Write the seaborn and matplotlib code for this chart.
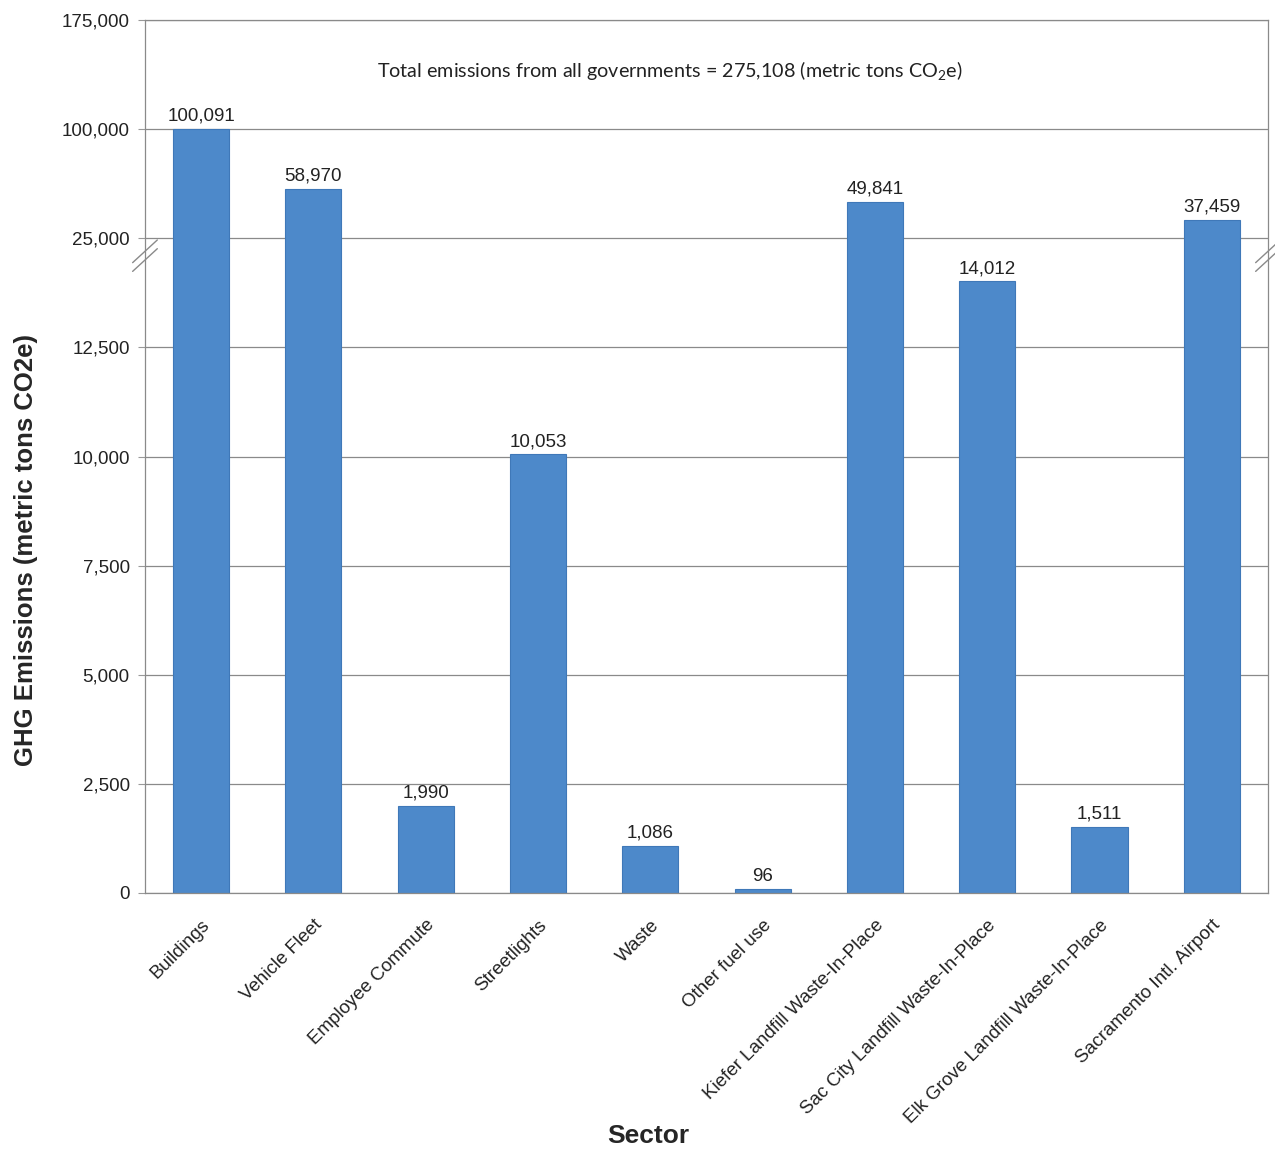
import matplotlib
matplotlib.use("Agg")
import matplotlib.pyplot as plt
import numpy as np
import pandas as pd
import seaborn as sns

# Data
sectors = [
    "Buildings",
    "Vehicle Fleet",
    "Employee Commute",
    "Streetlights",
    "Waste",
    "Other fuel use",
    "Kiefer Landfill Waste-In-Place",
    "Sac City Landfill Waste-In-Place",
    "Elk Grove Landfill Waste-In-Place",
    "Sacramento Intl. Airport",
]
emissions = [100091, 58970, 1990, 10053, 1086, 96, 49841, 14012, 1511, 37459]
y_ticks = [0, 2500, 5000, 7500, 10000, 12500, 25000, 100000, 175000]
total_note = "Total emissions from all governments = 275,108 (metric tons CO$_2$e)"

df = pd.DataFrame({"sector": sectors, "emissions": emissions})

# Broken axis: linear 0-15,000 below, compressed 25,000-175,000 above
knots_v = [0, 15000, 25000, 175000]
knots_t = [0, 5.999, 6.0, 8.0]


def fwd(v):
    return np.interp(v, knots_v, knots_t)


def inv(t):
    return np.interp(t, knots_t, knots_v)


sns.set_theme(style="white")
plt.rcParams["font.family"] = ["Liberation Sans", "DejaVu Sans"]
plt.rcParams["mathtext.default"] = "regular"

fig = plt.figure(figsize=(12.75, 11.53), dpi=100)
ax = fig.add_axes([0.1137, 0.2255, 0.8808, 0.7572])

sns.barplot(data=df, x="sector", y="emissions", color="#4D89CA",
            width=0.5, saturation=1, edgecolor="#3F78B8", linewidth=0.8, ax=ax)

ax.set_yscale("function", functions=(fwd, inv))
ax.set_ylim(0, 175000)
ax.set_xlim(-0.5, 9.5)

ax.set_yticks(y_ticks)
ax.set_yticklabels([f"{v:,}" for v in y_ticks], fontsize=13.5, color="#222222")
ax.yaxis.grid(True, color="#8a8a8a", linewidth=0.9)
ax.set_axisbelow(True)

# x tick marks at category boundaries
ax.set_xticks(range(len(sectors)))
ax.set_xticklabels(sectors, rotation=45, ha="right", rotation_mode="anchor",
                   fontsize=13.5, color="#222222")
ax.set_xticks(np.arange(-0.5, len(sectors), 1.0), minor=True)
ax.tick_params(axis="x", which="major", length=0, pad=17)
ax.tick_params(axis="x", which="minor", length=5, color="#999999", width=0.8)
ax.tick_params(axis="y", which="major", length=5, color="#999999", width=0.8,
               left=True, pad=6)

for side in ["left", "right", "top", "bottom"]:
    ax.spines[side].set_color("#8a8a8a")
    ax.spines[side].set_linewidth(0.9)

ax.bar_label(ax.containers[0], labels=[f"{v:,}" for v in emissions],
             padding=3, fontsize=13.5, color="#222222")

ax.set_xlabel("Sector", fontsize=19, fontweight="bold")
ax.xaxis.set_label_coords(0.448, -0.265)
ax.set_ylabel("GHG Emissions (metric tons CO2e)", fontsize=18.5,
              fontweight="bold")
ax.yaxis.set_label_coords(-0.095, 0.393)

ax.text(0.4675, 0.9416, total_note, transform=ax.transAxes, ha="center",
        va="center", fontsize=14.2, family=["Lato", "DejaVu Sans"],
        color="#222222")

# break marks on both spines
for xc in (0.0, 1.0):
    for dy in (-0.005, 0.005):
        ax.plot([xc - 0.011, xc + 0.011], [0.73 + dy - 0.013, 0.73 + dy + 0.013],
                transform=ax.transAxes, color="#8a8a8a", linewidth=1.0,
                clip_on=False)

fig.savefig("out.png", dpi=100)
